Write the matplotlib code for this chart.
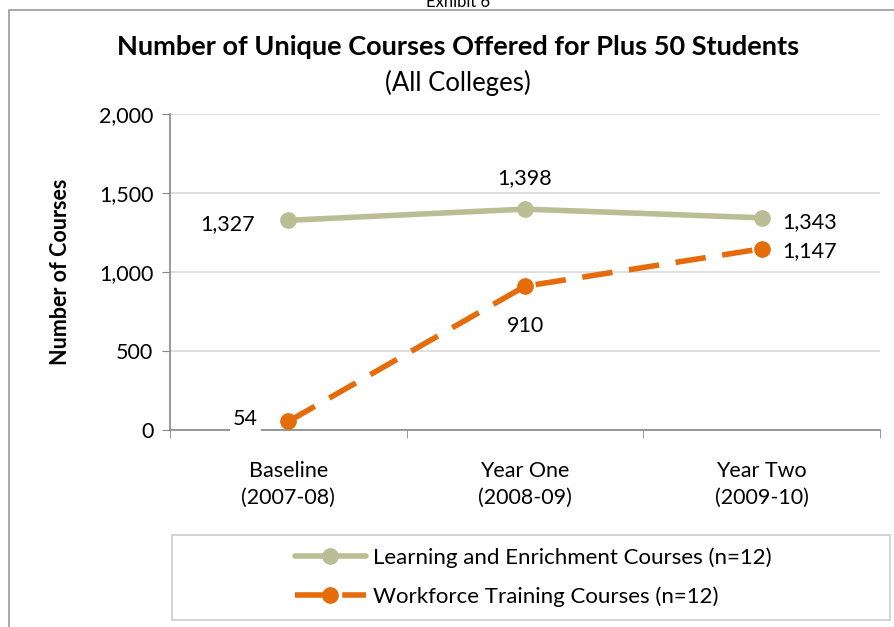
import matplotlib.pyplot as plt
from matplotlib.patches import Rectangle
from matplotlib.ticker import FuncFormatter

# data
categories = ['Baseline\n(2007-08)', 'Year One\n(2008-09)', 'Year Two\n(2009-10)']
learning = [1327, 1398, 1343]
workforce = [54, 910, 1147]
learning_label = 'Learning and Enrichment Courses (n=12)'
workforce_label = 'Workforce Training Courses (n=12)'

GREEN = '#B9BE94'
ORANGE = '#E46C0A'
plt.rcParams['font.family'] = ['Lato', 'DejaVu Sans']

fig = plt.figure(figsize=(8.94, 6.27), dpi=100)
W, H = 894, 627
ax = fig.add_axes([170 / W, 1 - 430 / H, 710 / W, 316 / H])

x = list(range(len(categories)))
ax.plot(x, learning, color=GREEN, lw=4, marker='o', ms=11, zorder=3,
        label=learning_label, solid_capstyle='round')
ax.plot(x, workforce, color=ORANGE, lw=4, ls=(0, (5.5, 3)), marker='o', ms=11,
        zorder=3, label=workforce_label)

fs = 15.5
ax.set_xlim(-0.5, 2.5)
ax.set_ylim(0, 2000)
ax.set_yticks([0, 500, 1000, 1500, 2000])
ax.yaxis.set_major_formatter(FuncFormatter(lambda v, p: f'{int(v):,}'))
ax.set_xticks(x)
ax.set_xticklabels(categories, fontsize=fs, linespacing=1.45)
ax.set_xticks([-0.5, 0.5, 1.5, 2.5], minor=True)
ax.tick_params(axis='x', which='major', length=0, pad=22)
ax.tick_params(axis='x', which='minor', length=6, color='#888888')
ax.tick_params(axis='y', length=6, color='#888888', labelsize=fs, pad=6)
ax.grid(axis='y', color='#D9D9D9', lw=1.2)
ax.set_axisbelow(True)
for s in ['top', 'right']:
    ax.spines[s].set_visible(False)
for s in ['left', 'bottom']:
    ax.spines[s].set_color('#888888')
    ax.spines[s].set_linewidth(1.2)

ax.set_ylabel('Number of Courses', fontsize=fs, fontweight='bold', labelpad=20)

bbox = dict(facecolor='white', edgecolor='none', pad=2)
ax.annotate(f'{learning[0]:,}', (x[0], learning[0]), xytext=(-24, -3), textcoords='offset points',
            ha='right', va='center', fontsize=fs, bbox=bbox)
ax.annotate(f'{learning[1]:,}', (x[1], learning[1]), xytext=(0, 22), textcoords='offset points',
            ha='center', va='center', fontsize=fs, bbox=bbox)
ax.annotate(f'{learning[2]:,}', (x[2], learning[2]), xytext=(15, -3), textcoords='offset points',
            ha='left', va='center', fontsize=fs, bbox=bbox)
ax.annotate(f'{workforce[0]:,}', (x[0], workforce[0]), xytext=(-22, 2), textcoords='offset points',
            ha='right', va='center', fontsize=fs, bbox=bbox)
ax.annotate(f'{workforce[1]:,}', (x[1], workforce[1]), xytext=(0, -29), textcoords='offset points',
            ha='center', va='center', fontsize=fs, bbox=bbox)
ax.annotate(f'{workforce[2]:,}', (x[2], workforce[2]), xytext=(15, -2), textcoords='offset points',
            ha='left', va='center', fontsize=fs, bbox=bbox)

fig.text(458 / W, 1 - 47 / H, 'Number of Unique Courses Offered for Plus 50 Students',
         ha='center', va='center', fontsize=19.5, fontweight='bold')
fig.text(458 / W, 1 - 83 / H, '(All Colleges)', ha='center', va='center', fontsize=18.5)
fig.text(458 / W, 1 - 2 / H, 'Exhibit 6', ha='center', va='center', fontsize=12)

# outer chart frame
fig.patches.append(Rectangle((9 / W, -0.1), 1.1, 1 - 10 / H + 0.1, transform=fig.transFigure,
                             fill=False, edgecolor='#999999', lw=1.2))
# legend box
fig.patches.append(Rectangle((172 / W, 1 - 620 / H), 718 / W, 85 / H, transform=fig.transFigure,
                             fill=False, edgecolor='#CCCCCC', lw=1.2))

leg = fig.legend(loc='center', bbox_to_anchor=(533 / W, 1 - 577 / H), fontsize=16,
                 frameon=False, handlelength=3.2, handletextpad=0.3,
                 labelspacing=0.85)

fig.savefig('out.png', dpi=100)
